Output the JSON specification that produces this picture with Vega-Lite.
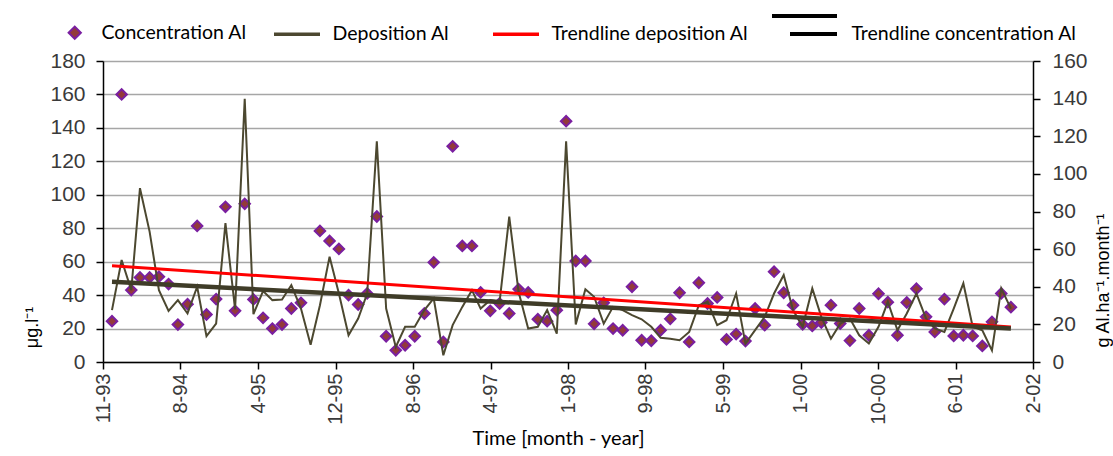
{
  "$schema": "https://vega.github.io/schema/vega-lite/v6.json",
  "width": 930,
  "height": 301,
  "autosize": {"type": "none"},
  "padding": {"left": 103, "top": 61, "right": 80, "bottom": 94},
  "background": "white",
  "config": {
    "view": {"stroke": null},
    "axis": {
      "labelFont": "Liberation Sans", "labelFontSize": 21, "labelColor": "#3a3a3a",
      "tickColor": "#000000", "tickWidth": 1.5, "tickSize": 7,
      "domainColor": "#000000", "domainWidth": 1.5,
      "titleFontWeight": "normal", "titleColor": "#000000",
      "labelFlush": false, "labelOverlap": false
    },
    "legend": {
      "title": null, "padding": 0, "direction": "horizontal",
      "labelFont": "Lato", "labelFontSize": 19.5, "labelColor": "#000000", "labelLimit": 400
    }
  },
  "datasets": {
    "monthly": [
      {"date":"1993-12-01","conc":24.4,"dep":27.6},
      {"date":"1994-01-01","conc":160,"dep":54.2},
      {"date":"1994-02-01","conc":43,"dep":38.2},
      {"date":"1994-03-01","conc":50.6,"dep":92.4},
      {"date":"1994-04-01","conc":50.6,"dep":69.3},
      {"date":"1994-05-01","conc":51,"dep":38.2},
      {"date":"1994-06-01","conc":46.6,"dep":27.2},
      {"date":"1994-07-01","conc":22.4,"dep":32.9},
      {"date":"1994-08-01","conc":34.6,"dep":25.8},
      {"date":"1994-09-01","conc":81.4,"dep":40},
      {"date":"1994-10-01","conc":28.4,"dep":13.7},
      {"date":"1994-11-01","conc":37.6,"dep":20.4},
      {"date":"1994-12-01","conc":92.8,"dep":73.8},
      {"date":"1995-01-01","conc":30.6,"dep":27.9},
      {"date":"1995-02-01","conc":94.6,"dep":139.9},
      {"date":"1995-03-01","conc":37.4,"dep":25.4},
      {"date":"1995-04-01","conc":26.4,"dep":37.7},
      {"date":"1995-05-01","conc":20,"dep":32.9},
      {"date":"1995-06-01","conc":22.4,"dep":33.2},
      {"date":"1995-07-01","conc":32,"dep":40.9},
      {"date":"1995-08-01","conc":35.4,"dep":28.4},
      {"date":"1995-09-01","conc":null,"dep":9.2},
      {"date":"1995-10-01","conc":78.4,"dep":30.2},
      {"date":"1995-11-01","conc":72.4,"dep":56},
      {"date":"1995-12-01","conc":67.6,"dep":36.4},
      {"date":"1996-01-01","conc":40,"dep":14.2},
      {"date":"1996-02-01","conc":34.4,"dep":23.1},
      {"date":"1996-03-01","conc":41,"dep":36.4},
      {"date":"1996-04-01","conc":87,"dep":117.3},
      {"date":"1996-05-01","conc":15.4,"dep":28.4},
      {"date":"1996-06-01","conc":7,"dep":8},
      {"date":"1996-07-01","conc":10,"dep":18.7},
      {"date":"1996-08-01","conc":15.4,"dep":18.7},
      {"date":"1996-09-01","conc":29,"dep":27.6},
      {"date":"1996-10-01","conc":59.6,"dep":33.8},
      {"date":"1996-11-01","conc":12,"dep":3.6},
      {"date":"1996-12-01","conc":129,"dep":19.6},
      {"date":"1997-01-01","conc":69.4,"dep":29.3},
      {"date":"1997-02-01","conc":69.4,"dep":38.2},
      {"date":"1997-03-01","conc":41.6,"dep":28.4},
      {"date":"1997-04-01","conc":30.6,"dep":32.9},
      {"date":"1997-05-01","conc":35,"dep":32},
      {"date":"1997-06-01","conc":29,"dep":77.3},
      {"date":"1997-07-01","conc":43.6,"dep":37.3},
      {"date":"1997-08-01","conc":41.6,"dep":17.8},
      {"date":"1997-09-01","conc":25.6,"dep":18.7},
      {"date":"1997-10-01","conc":24.4,"dep":27.6},
      {"date":"1997-11-01","conc":31,"dep":15.1},
      {"date":"1997-12-01","conc":144,"dep":117.3},
      {"date":"1998-01-01","conc":60.4,"dep":20},
      {"date":"1998-02-01","conc":60.4,"dep":38.7},
      {"date":"1998-03-01","conc":22.8,"dep":34.7},
      {"date":"1998-04-01","conc":35.4,"dep":20.4},
      {"date":"1998-05-01","conc":20,"dep":29.3},
      {"date":"1998-06-01","conc":19,"dep":27.6},
      {"date":"1998-07-01","conc":45,"dep":24.9},
      {"date":"1998-08-01","conc":13,"dep":22.7},
      {"date":"1998-09-01","conc":12.7,"dep":18.7},
      {"date":"1998-10-01","conc":19,"dep":12.9},
      {"date":"1998-11-01","conc":25.8,"dep":12.4},
      {"date":"1998-12-01","conc":41.4,"dep":11.6},
      {"date":"1999-01-01","conc":12,"dep":16},
      {"date":"1999-02-01","conc":47.4,"dep":30.2},
      {"date":"1999-03-01","conc":35,"dep":32},
      {"date":"1999-04-01","conc":38.6,"dep":19.6},
      {"date":"1999-05-01","conc":13.5,"dep":22.2},
      {"date":"1999-06-01","conc":16.7,"dep":36.4},
      {"date":"1999-07-01","conc":12.5,"dep":9.8},
      {"date":"1999-08-01","conc":32,"dep":16.9},
      {"date":"1999-09-01","conc":22,"dep":24},
      {"date":"1999-10-01","conc":54,"dep":36.4},
      {"date":"1999-11-01","conc":41.4,"dep":46.2},
      {"date":"1999-12-01","conc":34,"dep":27.6},
      {"date":"2000-01-01","conc":22.5,"dep":18.7},
      {"date":"2000-02-01","conc":21.6,"dep":39.1},
      {"date":"2000-03-01","conc":23.6,"dep":24},
      {"date":"2000-04-01","conc":34,"dep":12.4},
      {"date":"2000-05-01","conc":23,"dep":20.4},
      {"date":"2000-06-01","conc":12.8,"dep":23.1},
      {"date":"2000-07-01","conc":32,"dep":14.2},
      {"date":"2000-08-01","conc":16,"dep":9.8},
      {"date":"2000-09-01","conc":40.8,"dep":18.7},
      {"date":"2000-10-01","conc":35.8,"dep":32},
      {"date":"2000-11-01","conc":16,"dep":16.9},
      {"date":"2000-12-01","conc":35.6,"dep":25.8},
      {"date":"2001-01-01","conc":43.8,"dep":36.4},
      {"date":"2001-02-01","conc":27,"dep":23.1},
      {"date":"2001-03-01","conc":18,"dep":17.8},
      {"date":"2001-04-01","conc":37.6,"dep":16},
      {"date":"2001-05-01","conc":15.6,"dep":28.4},
      {"date":"2001-06-01","conc":16,"dep":41.8},
      {"date":"2001-07-01","conc":15.6,"dep":18.7},
      {"date":"2001-08-01","conc":9.6,"dep":16.9},
      {"date":"2001-09-01","conc":24,"dep":6.2},
      {"date":"2001-10-01","conc":41,"dep":39.1},
      {"date":"2001-11-01","conc":32.8,"dep":28.4}
    ],
    "trend": [
      {"date":"1993-12-01","dep_trend":51.2,"conc_trend":48},
      {"date":"2001-11-01","dep_trend":18.6,"conc_trend":20}
    ]
  },
  "encoding": {
    "x": {
      "field": "date", "type": "temporal",
      "scale": {"domain": [752203600000, 1010712800000], "nice": false},
      "axis": {
        "values": [752203600000, 773746033333, 795288466667, 816830900000, 838373333333, 859915766667, 881458200000, 903000633333, 924543066667, 946085500000, 967627933333, 989170366667, 1010712800000],
        "labelExpr": "['11-93','8-94','4-95','12-95','8-96','4-97','1-98','9-98','5-99','1-00','10-00','6-01','2-02'][round((datum.value - 752203600000) / 21542433333)]",
        "labelAngle": 270, "labelFontSize": 20, "labelPadding": 4,
        "grid": false,
        "title": "Time [month - year]", "titleFont": "Lato", "titleFontSize": 20,
        "titleX": 455, "titleY": 76, "titleAlign": "center", "titleBaseline": "middle"
      }
    }
  },
  "layer": [
    {
      "data": {"values": [{}]},
      "mark": {"type": "rect", "fill": "white", "clip": false},
      "encoding": {
        "x": {"datum": {"year": 1995, "month": 4, "date": 13, "utc": true}, "type": "temporal"},
        "x2": {"datum": {"year": 1997, "month": 8, "date": 22, "utc": true}},
        "y": {"datum": 147, "type": "quantitative", "scale": {"domain": [0, 180], "nice": false}, "axis": null},
        "y2": {"datum": 183}
      }
    },
    {
      "data": {"values": [{}]},
      "mark": {"type": "rect", "fill": "white", "clip": false},
      "encoding": {
        "x": {"datum": {"year": 1998, "month": 4, "date": 7, "utc": true}, "type": "temporal"},
        "x2": {"datum": {"year": 2000, "month": 6, "date": 7, "utc": true}},
        "y": {"datum": 147, "type": "quantitative", "scale": {"domain": [0, 180], "nice": false}, "axis": null},
        "y2": {"datum": 183}
      }
    },
    {
      "data": {"values": [{}]},
      "mark": {"type": "text", "font": "Lato", "fontSize": 17, "lineHeight": 23, "align": "center", "baseline": "middle", "color": "#000000"},
      "encoding": {
        "x": {"datum": {"year": 1996, "month": 6, "date": 20, "utc": true}, "type": "temporal"},
        "y": {"datum": 162.4, "type": "quantitative", "scale": {"domain": [0, 180], "nice": false}, "axis": null},
        "text": {"value": ["y= -0.0128x + 496,02", "R²(concentration)= 0.1355"]}
      }
    },
    {
      "data": {"values": [{}]},
      "mark": {"type": "text", "font": "Lato", "fontSize": 17, "lineHeight": 23, "align": "center", "baseline": "middle", "color": "#000000"},
      "encoding": {
        "x": {"datum": {"year": 1999, "month": 5, "date": 21, "utc": true}, "type": "temporal"},
        "y": {"datum": 162.4, "type": "quantitative", "scale": {"domain": [0, 180], "nice": false}, "axis": null},
        "text": {"value": ["y= -0.0087x + 340.58", "R²(deposition)= 0.1065"]}
      }
    },
    {
      "data": {"name": "monthly"},
      "mark": {"type": "point", "shape": "diamond", "filled": true, "size": 110, "stroke": "#7a1fa0", "strokeWidth": 2, "opacity": 1},
      "encoding": {
        "y": {
          "field": "conc", "type": "quantitative",
          "scale": {"domain": [0, 180], "nice": false},
          "axis": {
            "orient": "left", "values": [0, 20, 40, 60, 80, 100, 120, 140, 160, 180],
            "grid": true, "gridColor": "#a6a6a6", "gridWidth": 1.5,
            "labelPadding": 11,
            "title": "μg.l⁻¹", "titleFont": "Liberation Sans", "titleFontSize": 18,
            "titleAngle": 270, "titleX": -71, "titleY": 266, "titleAlign": "center", "titleBaseline": "middle"
          }
        },
        "fill": {
          "datum": "Concentration Al",
          "scale": {"domain": ["Concentration Al"], "range": ["#933a3a"]},
          "legend": {
            "orient": "none", "legendX": -38, "legendY": -38,
            "symbolType": "diamond", "symbolSize": 150,
            "symbolStrokeColor": "#7a1fa0", "symbolStrokeWidth": 2, "symbolOpacity": 1,
            "labelOffset": 17
          }
        }
      }
    },
    {
      "data": {"name": "monthly"},
      "mark": {"type": "line", "strokeWidth": 2},
      "encoding": {
        "y": {
          "field": "dep", "type": "quantitative",
          "scale": {"domain": [0, 160], "nice": false},
          "axis": {
            "orient": "right", "values": [0, 20, 40, 60, 80, 100, 120, 140, 160],
            "grid": false, "labelPadding": 12,
            "title": "g Al.ha⁻¹.month⁻¹", "titleFont": "Liberation Sans", "titleFontSize": 18,
            "titleAngle": 270, "titleX": 70, "titleY": 219, "titleAlign": "center", "titleBaseline": "middle"
          }
        },
        "stroke": {
          "datum": "Deposition Al",
          "scale": {"domain": ["Deposition Al", "Trendline deposition Al"], "range": ["#4c4830", "#ff0000"]},
          "legend": {
            "orient": "none", "legendX": 181, "legendY": -49,
            "symbolType": "M-1.6,0L0.7,0", "symbolSize": 1600, "symbolStrokeWidth": 3.5,
            "labelOffset": 4.5, "columnPadding": 36
          }
        }
      }
    },
    {
      "data": {"name": "trend"},
      "mark": {"type": "line", "strokeWidth": 3},
      "encoding": {
        "y": {"field": "dep_trend", "type": "quantitative", "scale": {"domain": [0, 160], "nice": false}, "axis": null},
        "stroke": {
          "datum": "Trendline deposition Al",
          "scale": {"domain": ["Deposition Al", "Trendline deposition Al"], "range": ["#4c4830", "#ff0000"]}
        }
      }
    },
    {
      "data": {"name": "trend"},
      "mark": {"type": "line", "strokeWidth": 4.5, "color": "#3f3c28"},
      "encoding": {
        "y": {"field": "conc_trend", "type": "quantitative", "scale": {"domain": [0, 180], "nice": false}, "axis": null},
        "opacity": {
          "datum": "Trendline concentration Al",
          "scale": {"domain": ["Trendline concentration Al"], "range": [1]},
          "legend": {
            "orient": "none", "legendX": 699, "legendY": -49,
            "symbolType": "M-1.7,0L0.65,0M-2.6,-0.9L0.65,-0.9", "symbolSize": 1600,
            "symbolStrokeColor": "#000000", "symbolStrokeWidth": 4,
            "labelOffset": 5.5
          }
        }
      }
    }
  ],
  "resolve": {"scale": {"y": "independent"}}
}
